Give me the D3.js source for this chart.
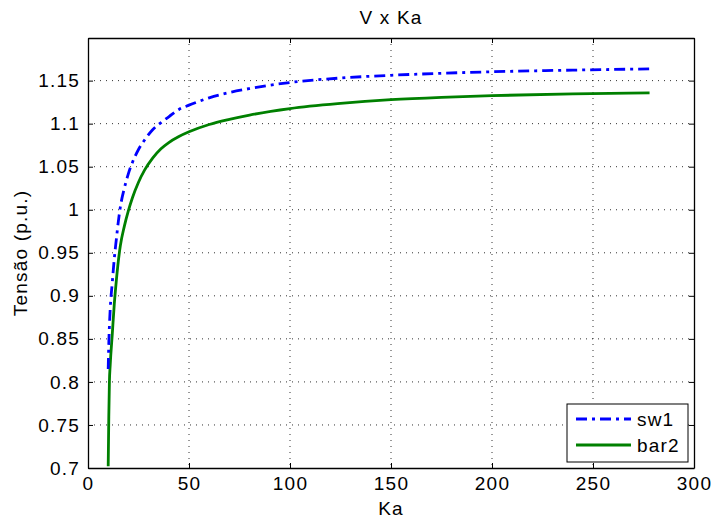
<!DOCTYPE html>
<html>
<head>
<meta charset="utf-8">
<title>V x Ka</title>
<script src="https://d3js.org/d3.v7.min.js"></script>
<style>
  body { margin: 0; background: #fff; }
  svg text { font-family: "Liberation Sans", Arial, sans-serif; fill: #000; letter-spacing: 1.2px; }
</style>
</head>
<body>
<div id="chart"></div>
<script>
// dados
const ka = [10, 10.3, 10.6, 11, 12, 13, 14, 15, 16, 18, 20, 22, 25, 28, 32, 36, 40, 45, 50,
            60, 70, 80, 100, 125, 150, 175, 200, 240, 278];
const sw1 = [0.815, 0.845, 0.865, 0.885, 0.915, 0.943, 0.965, 0.986, 1.003, 1.025, 1.042, 1.055, 1.070,
             1.081, 1.093, 1.101, 1.108, 1.1165, 1.1215, 1.130, 1.1362, 1.1408, 1.1478, 1.153, 1.1562,
             1.1585, 1.1603, 1.1622, 1.1636];
const bar2 = [0.702, 0.76, 0.80, 0.82, 0.855, 0.89, 0.917, 0.94, 0.958, 0.981, 0.999, 1.014, 1.032,
              1.046, 1.060, 1.0705, 1.078, 1.085, 1.0905, 1.099, 1.105, 1.110, 1.1175, 1.1235, 1.1278,
              1.1306, 1.1326, 1.1345, 1.1357];
const xTicks = [0, 50, 100, 150, 200, 250, 300];
const yTicks = [0.7, 0.75, 0.8, 0.85, 0.9, 0.95, 1, 1.05, 1.1, 1.15];
const seriesNames = ["sw1", "bar2"];

const w = 714, h = 522;
const margin = { top: 38, right: 20, bottom: 54, left: 88 },
      width = w - margin.left - margin.right,
      height = h - margin.top - margin.bottom;

const svg = d3.select("#chart").append("svg")
    .attr("width", w)
    .attr("height", h);

const g = svg.append("g")
    .attr("transform", "translate(" + margin.left + "," + margin.top + ")");

const x = d3.scaleLinear().domain([0, 300]).range([0, width]);
const y = d3.scaleLinear().domain([0.7, 1.1995]).range([height, 0]);

// grade pontilhada
g.append("g").selectAll("line")
  .data(xTicks.slice(1, -1)).enter().append("line")
    .attr("x1", d => x(d)).attr("x2", d => x(d))
    .attr("y1", 0).attr("y2", height)
    .attr("stroke", "#000").attr("stroke-width", 1)
    .attr("stroke-dasharray", "1,5").attr("opacity", 0.8);

g.append("g").selectAll("line")
  .data(yTicks.slice(1)).enter().append("line")
    .attr("x1", 0).attr("x2", width)
    .attr("y1", d => y(d)).attr("y2", d => y(d))
    .attr("stroke", "#000").attr("stroke-width", 1)
    .attr("stroke-dasharray", "1,5").attr("opacity", 0.8);

// linhas
const pts = vals => vals.map((v, i) => [ka[i], v]);
const line = d3.line().x(d => x(d[0])).y(d => y(d[1])).curve(d3.curveMonotoneX);

g.append("path")
    .attr("d", line(pts(bar2)))
    .attr("fill", "none")
    .attr("stroke", "#008000")
    .attr("stroke-width", 2.8);

g.append("path")
    .attr("d", line(pts(sw1)))
    .attr("fill", "none")
    .attr("stroke", "#0000ff")
    .attr("stroke-width", 2.8)
    .attr("stroke-dasharray", "11,5,3,5");

// eixos
const xAxis = d3.axisBottom(x).tickValues(xTicks).tickSizeInner(-5).tickSizeOuter(0).tickPadding(9);
const yAxis = d3.axisLeft(y).tickValues(yTicks).tickFormat(d3.format("")).tickSizeInner(-5).tickSizeOuter(0).tickPadding(8);
const xTop = d3.axisTop(x).tickValues(xTicks).tickSizeInner(-5).tickSizeOuter(0).tickFormat("");
const yRight = d3.axisRight(y).tickValues(yTicks).tickSizeInner(-5).tickSizeOuter(0).tickFormat("");

g.append("g").attr("class", "x axis").attr("transform", "translate(0," + height + ")").call(xAxis);
g.append("g").attr("class", "y axis").call(yAxis);
g.append("g").attr("class", "x axis").call(xTop);
g.append("g").attr("class", "y axis").attr("transform", "translate(" + width + ",0)").call(yRight);

g.selectAll(".axis path").attr("stroke", "#000").attr("stroke-width", 1.3);
g.selectAll(".axis line").attr("stroke", "#000");
g.selectAll(".axis text").attr("font-size", 19).attr("font-family", "Liberation Sans, Arial, sans-serif");

// titulo e rotulos
svg.append("text")
    .attr("x", margin.left + width / 2).attr("y", 24)
    .attr("text-anchor", "middle").attr("font-size", 19)
    .text("V x Ka");

svg.append("text")
    .attr("x", margin.left + width / 2).attr("y", 515)
    .attr("text-anchor", "middle").attr("font-size", 19)
    .text("Ka");

svg.append("text")
    .attr("transform", "translate(27," + (margin.top + height / 2) + ") rotate(-90)")
    .attr("text-anchor", "middle").attr("font-size", 19)
    .text("Tensão (p.u.)");

// legenda
const leg = svg.append("g").attr("transform", "translate(567,404)");
leg.append("rect")
    .attr("width", 121).attr("height", 58)
    .attr("fill", "#fff").attr("stroke", "#000").attr("stroke-width", 1);

const legStyle = [
  { color: "#0000ff", dash: "11,5,3,5" },
  { color: "#008000", dash: null }
];
seriesNames.forEach((name, i) => {
  const yy = 15 + i * 26;
  leg.append("line")
      .attr("x1", 9).attr("x2", 64).attr("y1", yy).attr("y2", yy)
      .attr("stroke", legStyle[i].color).attr("stroke-width", 2.8)
      .attr("stroke-dasharray", legStyle[i].dash);
  leg.append("text")
      .attr("x", 70).attr("y", yy + 7)
      .attr("font-size", 19)
      .text(name);
});
</script>
</body>
</html>
